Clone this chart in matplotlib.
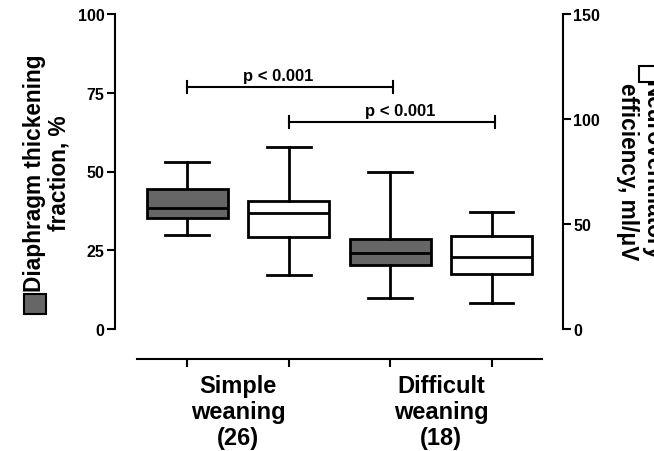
import matplotlib
matplotlib.use("Agg")
import matplotlib.pyplot as plt
from matplotlib.patches import Rectangle

plt.rcParams['font.family'] = ['Liberation Sans', 'DejaVu Sans']
plt.rcParams['font.weight'] = 'bold'

# groups
groups = ["Simple\nweaning\n(26)", "Difficult\nweaning\n(18)"]

# diaphragm thickening fraction, % (left axis, grey boxes)
dtf_low = [30.0, 10.0]
dtf_q1 = [35.3, 20.4]
dtf_med = [38.4, 24.0]
dtf_q3 = [44.5, 28.6]
dtf_high = [53.0, 50.0]

# neuroventilatory efficiency, ml/uV (right axis, white boxes)
nve_low = [25.8, 12.4]
nve_q1 = [43.8, 26.3]
nve_med = [55.2, 34.1]
nve_q3 = [60.9, 44.2]
nve_high = [86.9, 55.8]

W, H = 654, 452
fig = plt.figure(figsize=(W / 100, H / 100), dpi=100)
ax = fig.add_axes([115 / W, 1 - 330 / H, 448 / W, 315 / H])
ax2 = ax.twinx()


def stats(lo, q1, med, q3, hi):
    return [dict(whislo=lo[i], q1=q1[i], med=med[i], q3=q3[i], whishi=hi[i], fliers=[])
            for i in range(len(med))]


common = dict(widths=0.8, capwidths=0.43, patch_artist=True, showfliers=False,
              manage_ticks=False,
              whiskerprops=dict(color="black", linewidth=2),
              capprops=dict(color="black", linewidth=2),
              medianprops=dict(color="black", linewidth=2))

ax.bxp(stats(dtf_low, dtf_q1, dtf_med, dtf_q3, dtf_high), positions=[1, 3],
       boxprops=dict(facecolor="#666666", edgecolor="black", linewidth=2), **common)
ax2.bxp(stats(nve_low, nve_q1, nve_med, nve_q3, nve_high), positions=[2, 4],
        boxprops=dict(facecolor="white", edgecolor="black", linewidth=2), **common)

ax.set_xlim(0.2875, 4.703)
ax.set_ylim(0, 100)
ax2.set_ylim(0, 150)

# left axis
ax.set_yticks([0, 25, 50, 75, 100])
ax.spines['left'].set_bounds(0, 100)
ax.spines['left'].set_linewidth(1.5)
ax.spines['top'].set_visible(False)
ax.spines['right'].set_visible(False)
ax.tick_params(axis='y', length=6, width=1.5, pad=1.5, labelsize=11.5)

# bottom axis drawn offset
ax.spines['bottom'].set_position(('outward', 21.6))
ax.spines['bottom'].set_bounds(0.5, 4.5)
ax.spines['bottom'].set_linewidth(1.5)
ax.set_xticks([1, 2, 3, 4])
ax.set_xticklabels([])
ax.tick_params(axis='x', which='major', length=6, width=1.5)
ax.set_xticks([1.5, 3.5], minor=True)
ax.set_xticklabels(groups, minor=True, fontsize=17, linespacing=1.15)
ax.tick_params(axis='x', which='minor', length=0, pad=11)

# right axis
for s in ['top', 'left', 'bottom']:
    ax2.spines[s].set_visible(False)
ax2.spines['right'].set_linewidth(1.5)
ax2.set_yticks([0, 50, 100, 150])
ax2.tick_params(axis='y', length=6, width=1.5, pad=1.5, labelsize=11.5)

# significance brackets
brackets = [(1.0, 3.03, 76.8, 1.90, 78.2), (2.0, 4.03, 65.7, 3.10, 67.1)]
for x0, x1, y, tx, ty in brackets:
    ax.plot([x0, x1], [y, y], color="black", lw=1.5, clip_on=False)
    ax.plot([x0, x0], [y - 1.9, y + 1.9], color="black", lw=1.5, clip_on=False)
    ax.plot([x1, x1], [y - 1.9, y + 1.9], color="black", lw=1.5, clip_on=False)
    ax.text(tx, ty, "p < 0.001", ha="center", va="bottom", fontsize=12)

# axis labels with legend squares
fig.text(35 / W, 1 - 173 / H, "Diaphragm thickening", rotation=90,
         ha="center", va="center", fontsize=16.3)
fig.text(59 / W, 1 - 173 / H, "fraction, %", rotation=90,
         ha="center", va="center", fontsize=16.3)
fig.patches.append(Rectangle((24 / W, 1 - 315 / H), 22 / W, 20 / H,
                             transform=fig.transFigure, facecolor="#666666",
                             edgecolor="black", linewidth=1.5))

# right label runs off the figure edge, as in the original
fig.text(652 / W, 1 - 171 / H, "Neuroventilatory", rotation=270,
         ha="center", va="center", fontsize=16.3)
fig.text(628 / W, 1 - 172 / H, "efficiency, ml/\u03bcV", rotation=270,
         ha="center", va="center", fontsize=16.3)
fig.patches.append(Rectangle((639 / W, 1 - 83 / H), 20 / W, 16 / H,
                             transform=fig.transFigure, facecolor="white",
                             edgecolor="black", linewidth=1.5))

fig.savefig("out.png", dpi=100)
